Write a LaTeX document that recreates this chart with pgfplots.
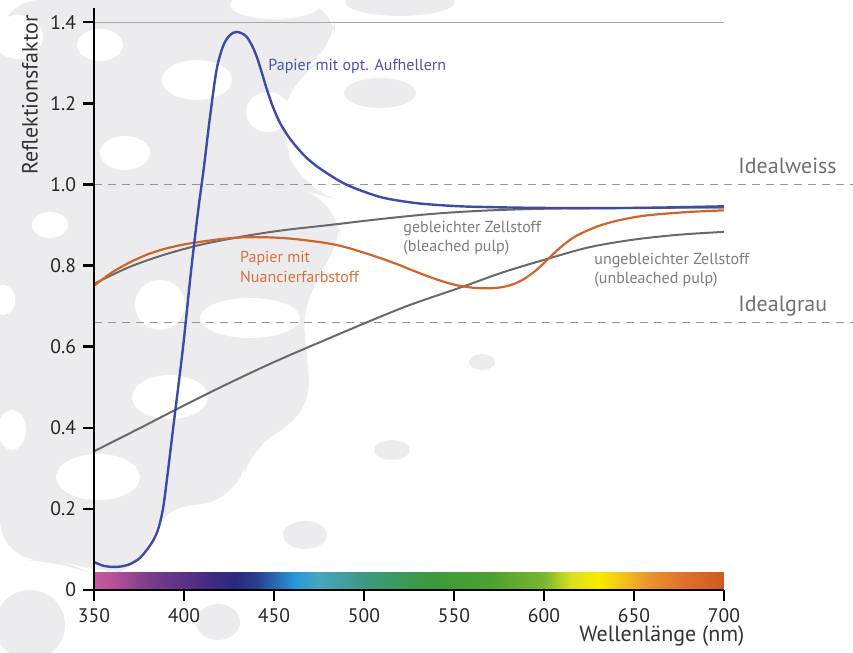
\documentclass[border=0pt]{standalone}
\usepackage{pgfplots}
\pgfplotsset{compat=1.18}
\usepackage{fontspec}
\setmainfont{PT Sans}
\definecolor{bgg}{RGB}{236,236,239}
\definecolor{cblue}{RGB}{60,75,165}
\definecolor{corange}{RGB}{208,101,44}
\definecolor{cgray}{RGB}{105,105,105}
\definecolor{lblue}{RGB}{74,85,168}
\definecolor{lorange}{RGB}{216,112,58}
\definecolor{lgray}{RGB}{125,125,125}
\definecolor{tgray}{RGB}{112,112,112}
\definecolor{dgray}{RGB}{150,150,150}
\pgfdeclarehorizontalshading{spectrum}{100bp}{%
rgb(0bp)=(0.78,0.35,0.62);
rgb(25bp)=(0.78,0.35,0.62);
rgb(26.43bp)=(0.72,0.32,0.60);
rgb(29.29bp)=(0.48,0.24,0.54);
rgb(33.57bp)=(0.29,0.17,0.52);
rgb(36.14bp)=(0.17,0.16,0.50);
rgb(37.86bp)=(0.17,0.24,0.55);
rgb(41bp)=(0.16,0.60,0.85);
rgb(42.86bp)=(0.28,0.65,0.75);
rgb(46.43bp)=(0.24,0.60,0.50);
rgb(51.71bp)=(0.23,0.60,0.24);
rgb(56.43bp)=(0.30,0.63,0.19);
rgb(60.71bp)=(0.48,0.71,0.18);
rgb(62.86bp)=(0.85,0.88,0.12);
rgb(65bp)=(0.98,0.92,0.0);
rgb(67.14bp)=(0.94,0.75,0.13);
rgb(69.29bp)=(0.91,0.56,0.19);
rgb(72.14bp)=(0.87,0.43,0.16);
rgb(75bp)=(0.81,0.35,0.13);
rgb(100bp)=(0.81,0.35,0.13)}
\begin{document}
\begin{tikzpicture}
\useasboundingbox (-47pt,-31.5pt) rectangle (379.5pt,295pt);
% decorative background blobs (pixel coordinates)
\begin{scope}[x=0.5pt,y=-0.5pt,shift={(-47pt,295pt)}]
\fill[bgg, rounded corners=20] (0,0) -- (335,0) -- (335,55) -- (290,75) -- (280,130) -- (300,190) -- (340,200) -- (340,260) -- (300,290) -- (305,330) -- (312,420) -- (250,440) -- (240,500) -- (150,510) -- (150,570) -- (95,575) -- (60,560) -- (0,560) -- cycle;
\fill[bgg] (400,2) ellipse [x radius=55, y radius=14];
\fill[white] (18,37) ellipse [x radius=25, y radius=22];
\fill[white] (100,45) ellipse [x radius=23, y radius=16];
\fill[white] (197,80) ellipse [x radius=35, y radius=20];
\fill[white] (268,112) ellipse [x radius=22, y radius=20];
\fill[white] (125,153) ellipse [x radius=25, y radius=17];
\fill[white] (50,225) ellipse [x radius=18, y radius=13];
\fill[white] (3,300) ellipse [x radius=12, y radius=15];
\fill[white] (160,305) ellipse [x radius=25, y radius=25];
\fill[white] (250,318) ellipse [x radius=50, y radius=20];
\fill[white] (170,397) ellipse [x radius=38, y radius=22];
\fill[white] (98,477) ellipse [x radius=42, y radius=23];
\fill[white] (12,430) ellipse [x radius=14, y radius=20];
\fill[white] (275,5) ellipse [x radius=45, y radius=14];
\fill[bgg] (380,93) ellipse [x radius=36, y radius=15];
\fill[bgg] (392,450) ellipse [x radius=18, y radius=10];
\fill[bgg] (305,535) ellipse [x radius=22, y radius=14];
\fill[bgg] (30,625) ellipse [x radius=35, y radius=35];
\fill[bgg] (218,622) ellipse [x radius=22, y radius=18];
\fill[bgg] (482,362) ellipse [x radius=13, y radius=8];
\end{scope}
\begin{axis}[
  scale only axis,
  width=315pt, height=291pt,
  xmin=350, xmax=700, ymin=0, ymax=1.435,
  axis x line*=bottom, axis y line*=left,
  axis line style={line width=1.3pt, black},
  axis on top=true,
  clip=false,
  xtick={350,400,...,700},
  ytick={0,0.2,0.4,0.6,0.8,1.0,1.2,1.4},
  yticklabels={0,0.2,0.4,0.6,0.8,1.0,1.2,1.4},
  tick align=outside,
  major tick length=5.5pt,
  tick style={line width=1.2pt, black},
  /pgf/number format/assume math mode=true,
  ticklabel style={font=\fontsize{9.8}{11}\selectfont, text=black!85},
  xlabel={Wellenlänge (nm)},
  ylabel={Reflektionsfaktor},
  xlabel style={at={(axis description cs:1.033,-0.079)}, anchor=east, inner sep=0pt, font=\fontsize{11}{13}\selectfont, text=black!80},
  ylabel style={at={(axis description cs:-0.1016,0.8505)}, anchor=center, inner sep=0pt, font=\fontsize{11}{13}\selectfont, text=black!80},
]
% spectrum bar
\fill[shading=spectrum] (axis cs:350,0) rectangle (axis cs:700,0.044);
% reference lines
\draw[gray!70, line width=0.6pt] (axis cs:350,1.4) -- (axis cs:700,1.4);
\draw[dgray, line width=0.8pt, dash pattern=on 4pt off 3pt] (axis cs:350,1.0) -- (axis cs:771.7,1.0);
\draw[dgray, line width=0.8pt, dash pattern=on 4pt off 3pt] (axis cs:350,0.66) -- (axis cs:771.7,0.66);
% gebleichter Zellstoff
\addplot[cgray, line width=1pt, smooth, no markers] coordinates {
(350,0.755) (370,0.797) (390,0.828) (410,0.852) (433,0.872) (455,0.887) (481,0.900) (510,0.915) (537,0.927) (565,0.935) (600,0.940) (650,0.942) (700,0.943)};
% ungebleichter Zellstoff
\addplot[cgray, line width=1pt, smooth, no markers] coordinates {
(350,0.342) (375,0.398) (400,0.455) (425,0.510) (450,0.562) (475,0.610) (500,0.657) (525,0.702) (555,0.748) (577,0.783) (600,0.814) (625,0.845) (650,0.864) (675,0.876) (700,0.883)};
% Papier mit Nuancierfarbstoff
\addplot[corange, line width=1.1pt, smooth, tension=0.45, no markers] coordinates {
(350,0.750) (360,0.783) (370,0.808) (380,0.828) (390,0.842) (400,0.852) (410,0.859) (420,0.865) (430,0.869) (440,0.870) (450,0.869) (460,0.866) (470,0.861) (481,0.854) (490,0.845) (499,0.833) (508,0.820) (518,0.804) (527,0.788) (537,0.771) (545,0.759) (552,0.751) (559,0.746) (565,0.744) (571,0.744) (577,0.747) (583,0.754) (589,0.767) (595,0.786) (600,0.806) (605,0.828) (610,0.848) (615,0.865) (620,0.878) (630,0.897) (640,0.910) (650,0.919) (660,0.925) (680,0.932) (700,0.936)};
% Papier mit opt. Aufhellern
\addplot[cblue, line width=1.2pt, smooth, tension=0.5, no markers] coordinates {
(350,0.069) (355,0.060) (360,0.057) (365,0.058) (370,0.064) (375,0.077) (379,0.097) (383,0.123) (386,0.155) (388.5,0.205) (391,0.290) (394,0.400) (399.5,0.600) (404,0.790) (408,0.940) (411,1.040) (414.4,1.165) (418.2,1.285) (421.9,1.343) (425.5,1.368) (429.3,1.376) (434.8,1.364) (440,1.320) (446,1.235) (449.5,1.190) (453.3,1.152) (458,1.118) (462.6,1.092) (468,1.066) (475.6,1.039) (490,1.000) (509,0.969) (527,0.955) (542,0.949) (560,0.945) (600,0.942) (650,0.942) (700,0.946)};
% labels
\node[anchor=west, inner sep=0pt, text=lblue, font=\fontsize{8}{9}\selectfont] at (axis cs:446.7,1.29) {Papier mit opt. Aufhellern};
\node[anchor=west, inner sep=0pt, text=lorange, font=\fontsize{8}{9.8}\selectfont, align=left] at (axis cs:431,0.796) {Papier mit\\Nuancierfarbstoff};
\node[anchor=west, inner sep=0pt, text=lgray, font=\fontsize{8}{9.8}\selectfont, align=left] at (axis cs:521.7,0.868) {gebleichter Zellstoff\\(bleached pulp)};
\node[anchor=west, inner sep=0pt, text=lgray, font=\fontsize{8}{9.8}\selectfont, align=left] at (axis cs:627.8,0.789) {ungebleichter Zellstoff\\(unbleached pulp)};
\node[anchor=west, inner sep=0pt, text=tgray, font=\fontsize{11}{13}\selectfont] at (axis cs:707.8,1.045) {Idealweiss};
\node[anchor=west, inner sep=0pt, text=tgray, font=\fontsize{11}{13}\selectfont] at (axis cs:707.8,0.70) {Idealgrau};
\end{axis}
\end{tikzpicture}
\end{document}
